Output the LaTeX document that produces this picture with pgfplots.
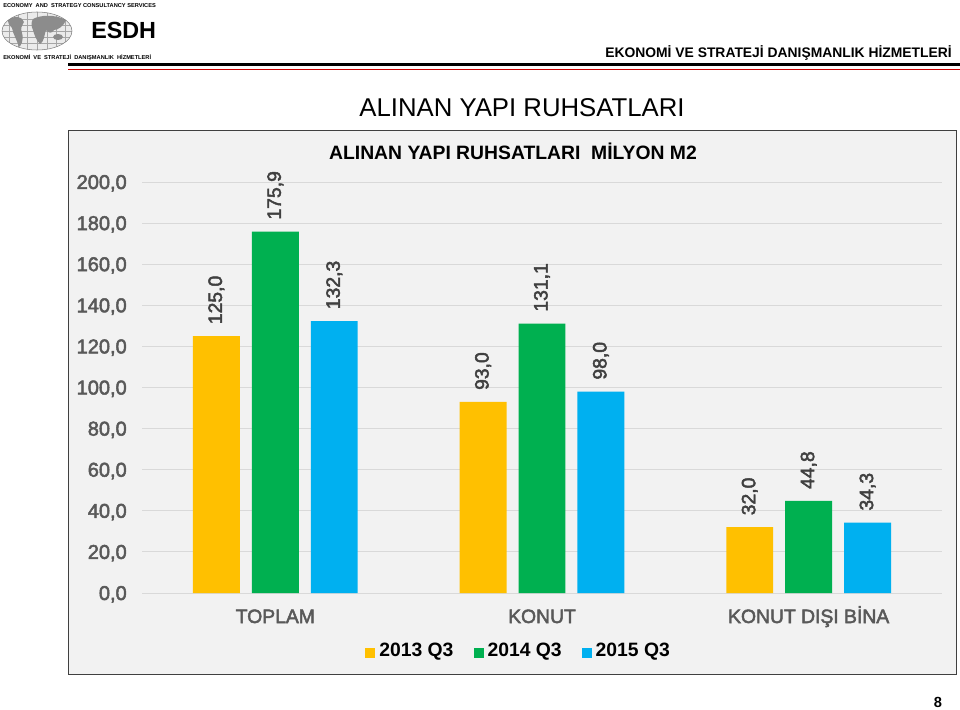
\documentclass[border=0pt]{standalone}
\usepackage{pgfplots}
\pgfplotsset{compat=1.18}
\usepackage{fontspec}
\setmainfont{Liberation Sans}
\newfontfamily\semi[FakeBold=2.5]{Liberation Sans}
\definecolor{c13}{HTML}{FFC000}
\definecolor{c14}{HTML}{00B050}
\definecolor{c15}{HTML}{00B0F0}
\definecolor{framebg}{HTML}{F2F2F2}
\definecolor{gridc}{HTML}{D9D9D9}
\definecolor{ticklab}{HTML}{595959}
\definecolor{datalab}{HTML}{404040}
\pgfplotsset{sqlegend/.style={legend image code/.code={\fill[##1] (0pt,-5pt) rectangle (7.5pt,2.5pt);}}}
\begin{document}
\begin{tikzpicture}
\begin{scope}[x=0.75pt,y=-0.75pt]
\path[use as bounding box] (0,0) rectangle (960,710);
% chart frame
\draw[fill=framebg, draw=black!75, line width=0.75pt] (68,130) rectangle (956,674);
% header lines
\draw[line width=2.25pt] (68,65) -- (960,65);
\draw[red!80!black, line width=0.75pt] (68,69.5) -- (960,69.5);
% stylised globe
\begin{scope}
\clip (37,31) ellipse (35 and 19);
\fill[black!8] (37,31) ellipse (35 and 19);
\foreach \yy in {19,25,31,37,43} \draw[black!35, line width=0.3pt] (0,\yy) -- (75,\yy);
\foreach \xx in {9,18,27,37,47,56,65} \draw[black!35, line width=0.3pt] (\xx,10) -- (\xx,52);
\fill[black!45] (8,20) .. controls (14,15) and (22,16) .. (24,22) .. controls (22,26) and (20,28) .. (22,33) .. controls (24,40) and (21,46) .. (19,47) .. controls (17,40) and (13,34) .. (12,28) .. controls (10,26) and (8,24) .. (8,20);
\fill[black!45] (33,19) .. controls (40,15) and (55,14) .. (66,20) .. controls (64,26) and (58,30) .. (54,30) .. controls (52,34) and (48,33) .. (46,30) .. controls (44,36) and (44,42) .. (40,44) .. controls (36,40) and (34,34) .. (33,30) .. controls (31,26) and (31,22) .. (33,19);
\fill[black!45] (58,37) ellipse (5 and 3);
\end{scope}
\draw[black!50, line width=0.4pt] (37,31) ellipse (35 and 19);
\node[anchor=base west, inner sep=0pt, font=\bfseries\fontsize{4.25}{5}\selectfont] at (3,8) {ECONOMY\ \ AND\ \ STRATEGY CONSULTANCY SERVICES};
\node[anchor=base west, inner sep=0pt, font=\bfseries\fontsize{17.5}{20}\selectfont] at (91,38.5) {ESDH};
\node[anchor=base west, inner sep=0pt, font=\bfseries\fontsize{4.25}{5}\selectfont] at (3,60) {EKONOMİ\ \ VE\ \ STRATEJİ\ \ DANIŞMANLIK\ \ HİZMETLERİ};
\node[anchor=base east, inner sep=0pt, font=\bfseries\fontsize{10.4}{13}\selectfont] at (952,58) {EKONOMİ VE STRATEJİ DANIŞMANLIK HİZMETLERİ};
% titles
\node[anchor=base, inner sep=0pt, font=\fontsize{19.3}{22}\selectfont] at (522,117) {ALINAN YAPI RUHSATLARI};
\node[anchor=base, inner sep=0pt, font=\bfseries\fontsize{14.5}{16}\selectfont] at (513,159) {ALINAN YAPI RUHSATLARI\ \ MİLYON M2};
% page number
\node[anchor=base, inner sep=0pt, font=\bfseries\fontsize{11}{13}\selectfont] at (938,707) {8};
\end{scope}
\begin{axis}[
  at={(106.5pt,-444.75pt)}, anchor=south west,
  scale only axis, width=600pt, height=308.25pt,
  ymin=0, ymax=200, xmin=-0.5, xmax=2.5,
  ytick={0,20,...,200}, xtick={0,1,2},
  xticklabels={TOPLAM,KONUT,KONUT DIŞI BİNA},
  ymajorgrids, grid style={gridc, line width=0.75pt},
  axis line style={draw=none}, major tick length=0pt,
  ybar, bar width=0.176,
  /pgf/number format/fixed, /pgf/number format/fixed zerofill,
  /pgf/number format/precision=1, /pgf/number format/use comma,
  /pgf/number format/assume math mode=true,
  yticklabel style={font=\semi\fontsize{15}{17}\selectfont, text=ticklab, anchor=east, text depth=0pt, inner sep=0pt, xshift=-11.25pt},
  xticklabel style={font=\semi\fontsize{14.5}{16}\selectfont, text=ticklab, anchor=base, inner sep=0pt, yshift=-22.5pt},
  nodes near coords,
  every node near coord/.append style={rotate=90, anchor=west, font=\semi\fontsize{14.5}{16}\selectfont, text=datalab, inner sep=0pt, outer xsep=9pt},
  legend style={at={(0.472,-0.141)}, anchor=center, draw=none, fill=none, legend columns=3,
    font=\bfseries\fontsize{14.5}{16}\selectfont,
    nodes={inner xsep=3pt},
    /tikz/every even column/.append style={column sep=12pt}},
  legend cell align=left,
]
\addplot[fill=c13, draw=none, bar shift=-0.221, sqlegend] coordinates {(0,125.0) (1,93.0) (2,32.0)};
\addplot[fill=c14, draw=none, bar shift=0, sqlegend] coordinates {(0,175.9) (1,131.1) (2,44.8)};
\addplot[fill=c15, draw=none, bar shift=0.221, sqlegend] coordinates {(0,132.3) (1,98.0) (2,34.3)};
\legend{2013 Q3,2014 Q3,2015 Q3}
\end{axis}
\end{tikzpicture}
\end{document}
